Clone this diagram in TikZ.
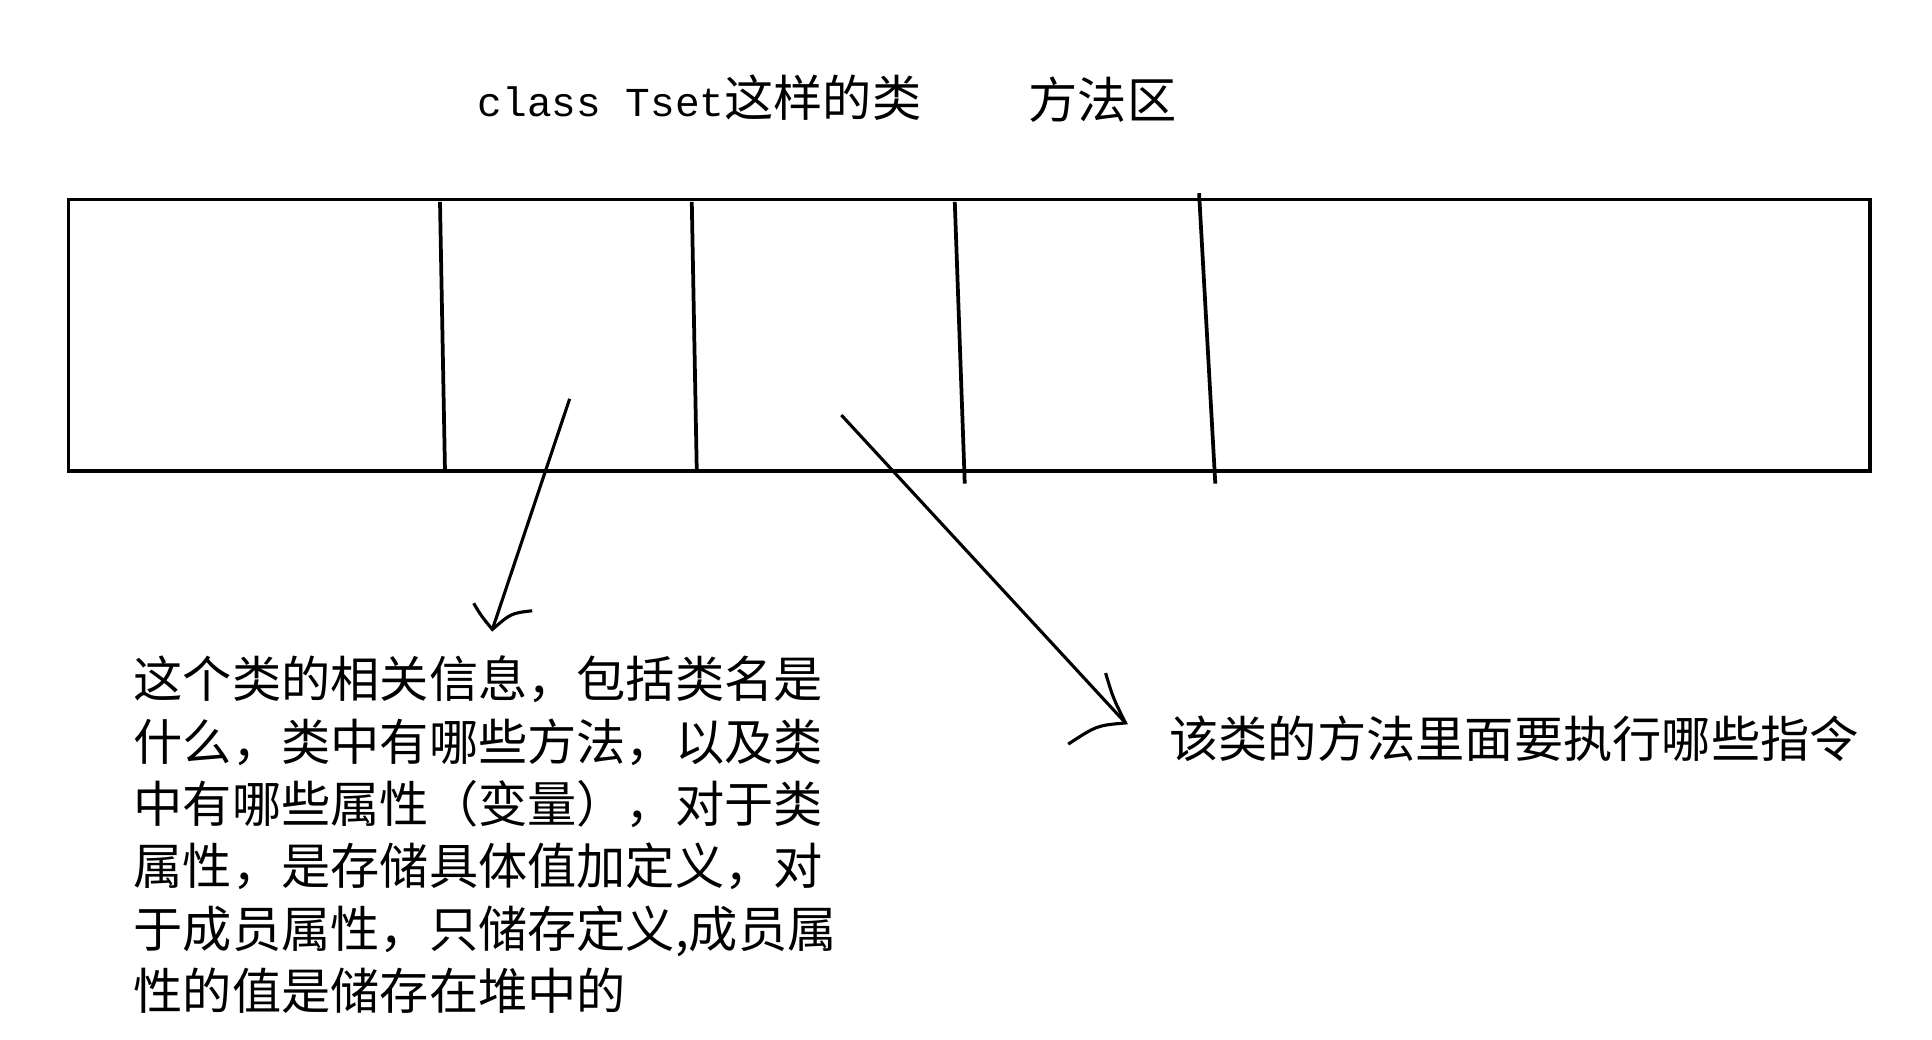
\documentclass[tikz,border=0pt]{standalone}
\usepackage{fontspec}
\newfontfamily\cjk{Noto Sans CJK SC}
\newfontfamily\mono{Liberation Mono}
\begin{document}
\begin{tikzpicture}[x=1pt,y=-1pt,
  txt/.style={inner sep=0pt,font=\cjk\fontsize{39.5}{50}\selectfont},
  ln/.style={line width=3pt},
  thin/.style={line width=2.5pt}]
\useasboundingbox (0,0) rectangle (1550,834);
\node[txt,anchor=west] (title) at (383,78) {{\mono\fontsize{33}{40}\selectfont class Tset}这样的类};
\node[txt,anchor=west] (area) at (825,80) {方法区};
\draw[ln] (55,160) rectangle (1500,378);
\draw[ln] (353,162) -- (357,378);
\draw[ln] (555,162) -- (559,378);
\draw[ln] (766,162) -- (774,388);
\draw[ln] (962,155) -- (975,388);
\coordinate (a1) at (457,320); \coordinate (a1e) at (395,505);
\draw[thin] (a1) -- (a1e);
\draw[thin] (380,484) .. controls (386,494) .. (a1e) .. controls (410,492) .. (427,490);
\coordinate (a2) at (675,333); \coordinate (a2e) at (903,580);
\draw[thin] (a2) -- (a2e);
\draw[thin] (887,540) .. controls (893,560) .. (a2e) .. controls (880,582) .. (857,597);
\node[txt,anchor=north west,align=left] (left) at (107,526) {这个类的相关信息，包括类名是\\什么，类中有哪些方法，以及类\\中有哪些属性（变量），对于类\\属性，是存储具体值加定义，对\\于成员属性，只储存定义,成员属\\性的值是储存在堆中的};
\node[txt,anchor=west] (right) at (938,593) {该类的方法里面要执行哪些指令};
\end{tikzpicture}
\end{document}
